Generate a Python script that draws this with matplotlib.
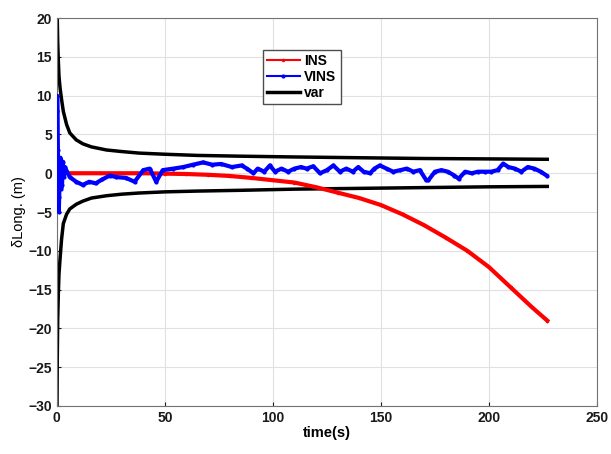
import matplotlib
matplotlib.use("Agg")
import matplotlib.pyplot as plt

plt.rcParams['font.family'] = ['Liberation Sans', 'DejaVu Sans']
plt.rcParams['font.weight'] = 'bold'

# var envelope
var_t = [0.05, 0.2, 0.4, 0.7, 1.0, 1.5, 2.2, 3, 4.5, 6, 9, 12, 16, 23, 30, 38,
         50, 65, 85, 110, 140, 170, 200, 227]
var_up = [22, 20, 17, 14.5, 12.5, 11, 9.5, 8, 6.3, 5.2, 4.3, 3.8, 3.4, 3.0, 2.8, 2.6,
          2.45, 2.3, 2.2, 2.1, 2.0, 1.9, 1.85, 1.8]
var_lo = [-32, -24, -19, -15.5, -13, -11, -8.5, -6.5, -5.3, -4.6, -4.0, -3.6, -3.2, -2.9,
          -2.7, -2.55, -2.4, -2.3, -2.2, -2.05, -1.95, -1.85, -1.75, -1.7]

# INS error
ins_t = [0, 20, 40, 50, 60, 70, 80, 90, 100, 110, 120, 130, 140, 150, 160, 170,
         180, 190, 200, 210, 220, 227]
ins_v = [0, 0, 0, -0.05, -0.1, -0.2, -0.35, -0.6, -0.9, -1.2, -1.8, -2.5, -3.2, -4.1,
         -5.3, -6.7, -8.3, -10.0, -12.1, -14.7, -17.3, -19.0]

# VINS error
vins_t = [0, 0.15, 0.3, 0.5, 0.7, 0.9, 1.1, 1.4, 1.7, 2.0, 2.4, 2.8, 3.2, 3.7,
          6, 9, 12, 15, 18, 21, 24.5, 27.6, 32, 36, 40, 43, 46, 49, 54, 58.5,
          63, 67.7, 72, 76, 81, 85.5, 88, 91, 93, 96, 98.6, 101, 104, 107, 110,
          113, 115.6, 118.7, 121.8, 125, 128, 131, 134, 137, 139.5, 142, 145,
          147, 149.5, 152.6, 155.7, 159, 162, 165, 168, 171, 172, 175, 178, 181,
          184, 186, 189, 192, 195, 198, 201, 204, 206.6, 209, 212, 215, 218,
          221, 224, 226.7]
vins_v = [3, 10, 8, 3, -2, -5, -3, 1, 2, -2, -1.5, 1.5, -0.5, 0.8,
          -0.5, -1.1, -1.5, -1.1, -1.3, -0.8, -0.3, -0.5, -0.6, -1.1, 0.4, 0.6,
          -1.1, 0.4, 0.6, 0.8, 1.1, 1.4, 1.1, 1.2, 0.8, 1.0, 0.6, 0.0, 0.6, 0.2,
          1.0, 0.2, 0.6, 0.2, 0.6, 0.8, 0.6, 0.9, 0.0, 0.4, 1.0, 0.2, 0.6, 0.2,
          0.8, 0.2, 0.0, 0.6, 1.0, 0.6, 0.2, 0.4, 0.6, 0.2, 0.4, -0.9, -0.9, 0.2,
          0.4, 0.2, -0.3, -0.7, 0.2, 0.0, 0.2, 0.2, 0.2, 0.4, 1.25, 0.8, 0.6, 0.2,
          0.8, 0.6, 0.2, -0.3]

fig = plt.figure(figsize=(6.11, 4.54), dpi=100)
ax = fig.add_axes([0.093, 0.106, 0.884, 0.854])

ax.plot(ins_t, ins_v, color='red', linewidth=3, marker='.', markersize=3, label='INS', zorder=3)
ax.plot(vins_t, vins_v, color='blue', linewidth=3, marker='.', markersize=4, label='VINS', zorder=4)
ax.plot(var_t, var_up, color='black', linewidth=2.5, label='var', zorder=2)
ax.plot(var_t, var_lo, color='black', linewidth=2.5, zorder=2)

ax.set_xlim(0, 250)
ax.set_ylim(-30, 20)
ax.set_xticks([0, 50, 100, 150, 200, 250])
ax.set_yticks(range(-30, 21, 5))
ax.grid(True, color='0.88', linewidth=0.8)
ax.tick_params(direction='in', length=3, labelsize=10, colors='0.1')
for s in ax.spines.values():
    s.set_color('0.45')
ax.set_xlabel('time(s)', fontsize=10.5, fontweight='bold', labelpad=1)
ax.set_ylabel('δLong. (m)', fontsize=10.5, fontweight='normal', labelpad=2)

leg = ax.legend(loc='upper left', bbox_to_anchor=(0.381, 0.918), borderaxespad=0,
                fancybox=False, framealpha=1, edgecolor='0.3',
                handlelength=2.4, handletextpad=0.3, borderpad=0.3, labelspacing=0.15,
                prop={'weight': 'bold', 'size': 10})
leg.get_frame().set_linewidth(1.0)
handles = leg.legend_handles
handles[0].set_linewidth(1.5)
handles[1].set_linewidth(1.5)
handles[2].set_linewidth(2.5)

fig.savefig('out.png', dpi=100)
